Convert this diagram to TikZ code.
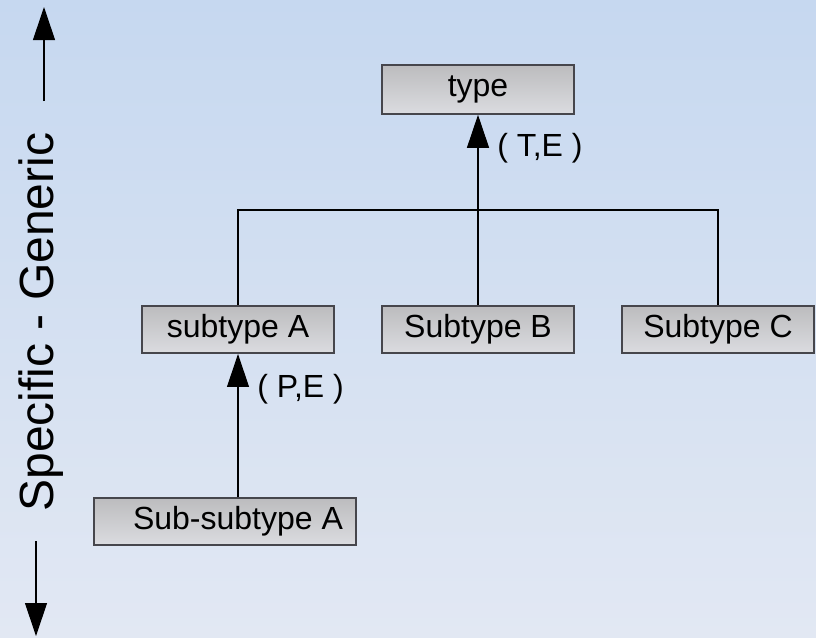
\documentclass[tikz,border=0pt]{standalone}
\usepackage{fontspec}
\setmainfont{Liberation Sans}
\usetikzlibrary{arrows.meta, positioning}
\definecolor{bgtop}{RGB}{198,216,240}
\definecolor{bgbottom}{RGB}{226,232,243}
\definecolor{boxtop}{RGB}{188,188,190}
\definecolor{boxbottom}{RGB}{219,220,224}
\definecolor{boxedge}{RGB}{70,70,76}

\begin{document}
\begin{tikzpicture}[
    x=0.75pt, y=-0.75pt,
    cls/.style={rectangle, draw=boxedge, line width=1.2pt,
                top color=boxtop, bottom color=boxbottom,
                minimum width=144pt, minimum height=35.5pt, inner sep=0pt,
                font=\fontsize{24}{28}\selectfont},
    link/.style={line width=0.8pt, black},
    gen/.style={-{Triangle[width=16.5pt,length=24.75pt]}, line width=0.8pt, black},
    lbl/.style={anchor=west, inner sep=0pt, font=\fontsize{24}{28}\selectfont}
  ]
    % backdrop
    \shade[top color=bgtop, bottom color=bgbottom] (0,0) rectangle (816,637);
    \useasboundingbox (0,0) rectangle (816,637);

    % hierarchy
    \node[cls, minimum height=36.75pt] (type) at (478,89.5) {type};
    \node[cls] (subA) at (238,329.5) {subtype A};
    \node[cls] (subB) at (478,329.5) {Subtype B};
    \node[cls] (subC) at (718,329.5) {Subtype C};
    \node[cls, minimum width=196.5pt] (subsub) at (225,521.5) {\hspace*{19.5pt}Sub-subtype A};
    \coordinate (bar) at (478,210);

    \draw[link] (subA.north) -- (subA.north |- bar) -- (subC.north |- bar) -- (subC.north);
    \draw[gen] (subB.north) -- (type.south);
    \draw[gen] (subA.south |- subsub.north) -- (subA.south);

    \node[lbl] (te) at (497,148) {( T,E )};
    \node[lbl] (pe) at (257,389) {( P,E )};

    % scale on the left
    \node[rotate=90, inner sep=0pt, font=\fontsize{36}{42}\selectfont] (axis) at (41,322) {Specific - Generic};
    \coordinate (genfoot) at (44,101);
    \coordinate (gentip) at (44,7);
    \coordinate (specfoot) at (36,541);
    \coordinate (spectip) at (36,636);
    \draw[gen] (genfoot) -- (gentip);
    \draw[gen] (specfoot) -- (spectip);
  \end{tikzpicture}
\end{document}
